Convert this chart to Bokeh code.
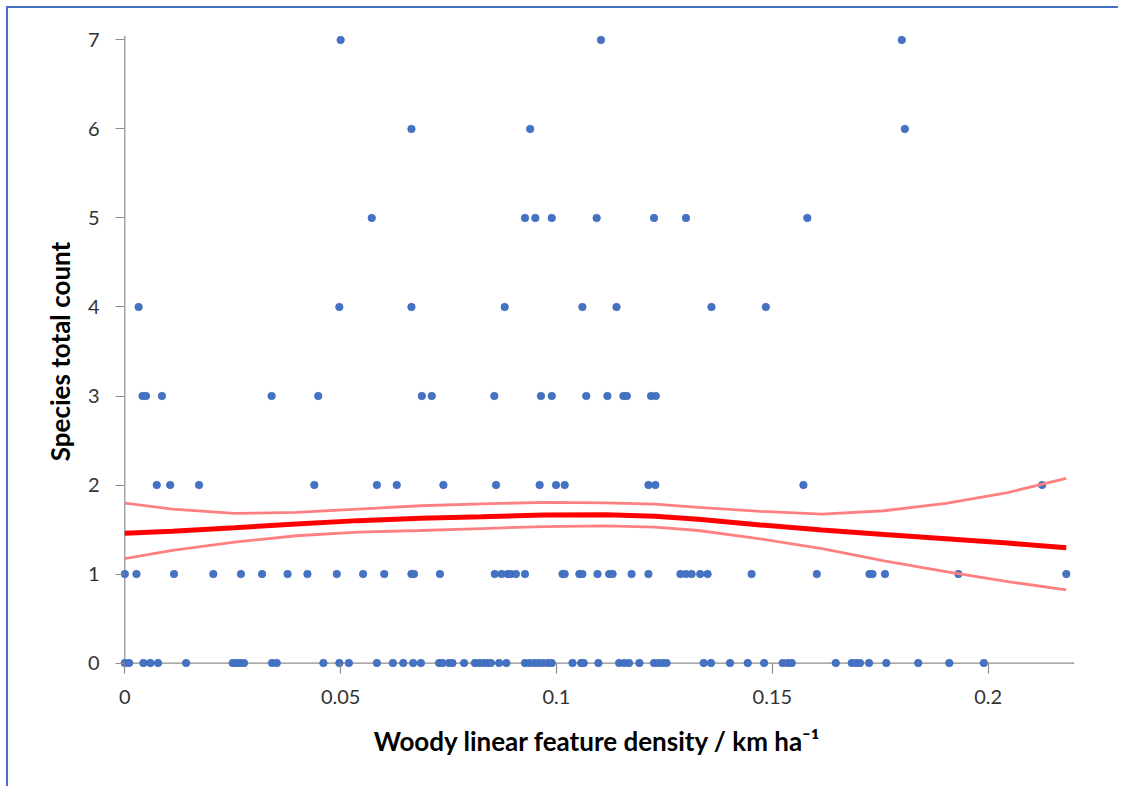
from bokeh.plotting import figure
from bokeh.models import Range1d, FixedTicker, ColumnDataSource, Span
from bokeh.embed import file_html
from bokeh.resources import INLINE

# Observed x values (woody linear feature density) for each species count
x_count0 = [0.0, 0.001, 0.0043, 0.0059, 0.0077, 0.0142, 0.0250, 0.0259, 0.0267, 0.0276,
            0.0341, 0.0352, 0.0460, 0.0497, 0.0519, 0.0584, 0.0621, 0.0645, 0.0668, 0.0686,
            0.0728, 0.0736, 0.0751, 0.0759, 0.0786, 0.0811, 0.0821, 0.0831, 0.0840, 0.0848,
            0.0867, 0.0884, 0.0927, 0.0937, 0.0948, 0.0958, 0.0968, 0.0979, 0.0989, 0.1037,
            0.1057, 0.1063, 0.1097, 0.1145, 0.1157, 0.1168, 0.1192, 0.1226, 0.1236, 0.1246,
            0.1255, 0.1341, 0.1358, 0.1402, 0.1443, 0.1481, 0.1524, 0.1535, 0.1545, 0.1647,
            0.1684, 0.1694, 0.1703, 0.1724, 0.1764, 0.1838, 0.1910, 0.1990]
x_count1 = [0.0, 0.0027, 0.0114, 0.0205, 0.0269, 0.0318, 0.0377, 0.0423, 0.0491, 0.0552,
            0.0601, 0.0664, 0.0670, 0.0730, 0.0857, 0.0873, 0.0887, 0.0894, 0.0906, 0.0927,
            0.1014, 0.1019, 0.1053, 0.1060, 0.1095, 0.1122, 0.1130, 0.1174, 0.1213, 0.1287,
            0.1300, 0.1313, 0.1333, 0.1350, 0.1452, 0.1603, 0.1725, 0.1732, 0.1761, 0.1931,
            0.2181]
x_count2 = [0.0074, 0.0105, 0.0172, 0.0439, 0.0584, 0.0630, 0.0738, 0.0860, 0.0961, 0.0999,
            0.1019, 0.1213, 0.1229, 0.1572, 0.2125]
x_count3 = [0.0041, 0.0049, 0.0086, 0.0340, 0.0448, 0.0688, 0.0711, 0.0856, 0.0964, 0.0989,
            0.1069, 0.1118, 0.1155, 0.1163, 0.1219, 0.1230]
x_count4 = [0.0032, 0.0497, 0.0664, 0.0880, 0.1060, 0.1139, 0.1359, 0.1485]
x_count5 = [0.0572, 0.0927, 0.0951, 0.0989, 0.1093, 0.1226, 0.1300, 0.1581]
x_count6 = [0.0664, 0.0939, 0.1807]
x_count7 = [0.0500, 0.1103, 0.1800]

# Fitted curve and confidence band
fit_x = [0.0, 0.011, 0.0254, 0.0397, 0.0541, 0.0684, 0.0827, 0.0971, 0.1114, 0.1228,
         0.1329, 0.1472, 0.1615, 0.1759, 0.1902, 0.2045, 0.2181]
fit_mean = [1.459, 1.481, 1.519, 1.563, 1.600, 1.626, 1.644, 1.663, 1.667, 1.648,
            1.615, 1.552, 1.496, 1.444, 1.396, 1.348, 1.296]
fit_upper = [1.796, 1.730, 1.681, 1.693, 1.730, 1.767, 1.789, 1.804, 1.800, 1.785,
             1.748, 1.704, 1.674, 1.711, 1.793, 1.915, 2.074]
fit_lower = [1.174, 1.267, 1.359, 1.430, 1.470, 1.489, 1.511, 1.533, 1.541, 1.526,
             1.489, 1.396, 1.285, 1.148, 1.026, 0.915, 0.822]

x_ticks = [0, 0.05, 0.1, 0.15, 0.2]
x_tick_labels = ["0", "0.05", "0.1", "0.15", "0.2"]
y_ticks = [0, 1, 2, 3, 4, 5, 6, 7]

rows = [x_count0, x_count1, x_count2, x_count3, x_count4, x_count5, x_count6, x_count7]
xs, ys = [], []
for count, row in enumerate(rows):
    xs.extend(row)
    ys.extend([count] * len(row))
pts = ColumnDataSource(dict(x=xs, y=ys))

AXIS_GREY = "#8C8C8C"

p = figure(width=1112, height=780, output_backend="svg", toolbar_location=None,
           x_range=Range1d(-0.001, 0.22), y_range=Range1d(-0.05, 7.05),
           min_border_left=112, min_border_right=46, min_border_top=27, min_border_bottom=121)
p.styles = {"margin-left": "6px", "margin-top": "6px",
            "border-top": "2px solid #4472C4", "border-left": "2px solid #4472C4"}
p.outline_line_color = None
p.xgrid.grid_line_color = None
p.ygrid.grid_line_color = None

# axis lines through the origin
p.add_layout(Span(location=0, dimension="width", line_color=AXIS_GREY, line_width=1.2,
                  level="underlay"))
p.add_layout(Span(location=0, dimension="height", line_color=AXIS_GREY, line_width=1.2,
                  level="underlay"))

p.scatter("x", "y", source=pts, size=7.5, fill_color="#4472C4", line_color="#3E6AB5",
          line_alpha=0.7)
p.line(fit_x, fit_upper, line_color="#FF8080", line_width=2.8)
p.line(fit_x, fit_lower, line_color="#FF8080", line_width=2.8)
p.line(fit_x, fit_mean, line_color="#FF0000", line_width=5)

ax = p.xaxis[0]
ax.ticker = FixedTicker(ticks=x_ticks)
ax.major_label_overrides = {t: l for t, l in zip(x_ticks, x_tick_labels)}
ax.minor_tick_line_color = None
ax.axis_line_color = None
ax.major_tick_in = 4
ax.major_tick_out = 6
ax.major_tick_line_color = AXIS_GREY
ax.major_tick_line_width = 1.2
ax.major_label_text_font = "Lato"
ax.major_label_text_font_size = "20px"
ax.major_label_text_color = "#333333"
ax.major_label_standoff = 16
ax.axis_label = "Woody linear feature density / km ha\u207b\u00b9"
ax.axis_label_text_font = "Lato"
ax.axis_label_text_font_style = "bold"
ax.axis_label_text_font_size = "26px"
ax.axis_label_text_color = "#000000"
ax.axis_label_standoff = 18

ay = p.yaxis[0]
ay.ticker = FixedTicker(ticks=y_ticks)
ay.minor_tick_line_color = None
ay.axis_line_color = None
ay.major_tick_in = 4
ay.major_tick_out = 5
ay.major_tick_line_color = AXIS_GREY
ay.major_tick_line_width = 1.2
ay.major_label_text_font = "Lato"
ay.major_label_text_font_size = "20px"
ay.major_label_text_color = "#333333"
ay.major_label_standoff = 16
ay.axis_label = "Species total count"
ay.axis_label_text_font = "Lato"
ay.axis_label_text_font_style = "bold"
ay.axis_label_text_font_size = "26px"
ay.axis_label_text_color = "#000000"
ay.axis_label_standoff = 9

open("out.html", "w").write(file_html(p, INLINE))
